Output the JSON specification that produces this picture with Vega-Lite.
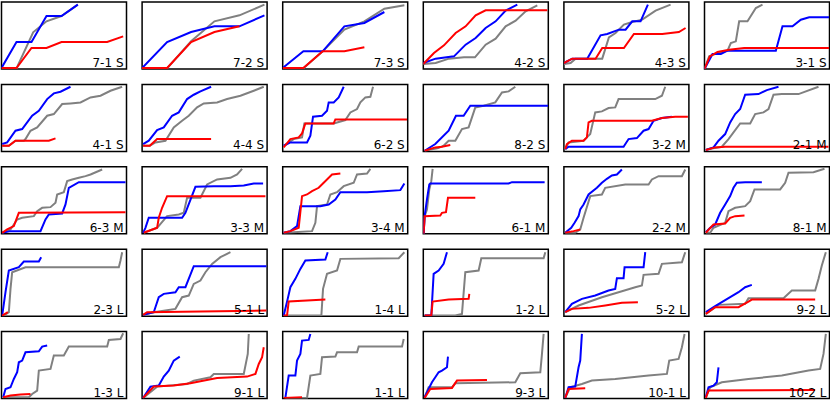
{
  "$schema": "https://vega.github.io/schema/vega-lite/v6.json",
  "padding": {"left": 0.5, "top": 1, "right": 0, "bottom": 0},
  "autosize": {"type": "pad"},
  "bounds": "flush",
  "background": "white",
  "data": {"values": [
    {"p":"7-1 S","s":"g","x":0,"y":2},{"p":"7-1 S","s":"g","x":45,"y":2},{"p":"7-1 S","s":"g","x":95,"y":110},{"p":"7-1 S","s":"g","x":135,"y":143},{"p":"7-1 S","s":"g","x":180,"y":159},{"p":"7-1 S","s":"g","x":229,"y":193},
    {"p":"7-1 S","s":"b","x":0,"y":3},{"p":"7-1 S","s":"b","x":45,"y":81},{"p":"7-1 S","s":"b","x":90,"y":81},{"p":"7-1 S","s":"b","x":135,"y":159},{"p":"7-1 S","s":"b","x":180,"y":159},{"p":"7-1 S","s":"b","x":229,"y":193},
    {"p":"7-1 S","s":"r","x":0,"y":3},{"p":"7-1 S","s":"r","x":45,"y":3},{"p":"7-1 S","s":"r","x":90,"y":63},{"p":"7-1 S","s":"r","x":135,"y":63},{"p":"7-1 S","s":"r","x":180,"y":81},{"p":"7-1 S","s":"r","x":317,"y":81},{"p":"7-1 S","s":"r","x":365,"y":98},

    {"p":"7-2 S","s":"g","x":0,"y":2},{"p":"7-2 S","s":"g","x":75,"y":2},{"p":"7-2 S","s":"g","x":147,"y":83},{"p":"7-2 S","s":"g","x":217,"y":143},{"p":"7-2 S","s":"g","x":292,"y":161},{"p":"7-2 S","s":"g","x":367,"y":193},
    {"p":"7-2 S","s":"b","x":0,"y":3},{"p":"7-2 S","s":"b","x":75,"y":81},{"p":"7-2 S","s":"b","x":147,"y":111},{"p":"7-2 S","s":"b","x":217,"y":128},{"p":"7-2 S","s":"b","x":292,"y":128},{"p":"7-2 S","s":"b","x":367,"y":161},
    {"p":"7-2 S","s":"r","x":0,"y":3},{"p":"7-2 S","s":"r","x":75,"y":3},{"p":"7-2 S","s":"r","x":147,"y":81},{"p":"7-2 S","s":"r","x":217,"y":111},{"p":"7-2 S","s":"r","x":292,"y":128},

    {"p":"7-3 S","s":"g","x":0,"y":2},{"p":"7-3 S","s":"g","x":62,"y":2},{"p":"7-3 S","s":"g","x":120,"y":53},{"p":"7-3 S","s":"g","x":185,"y":118},{"p":"7-3 S","s":"g","x":245,"y":143},{"p":"7-3 S","s":"g","x":305,"y":181},{"p":"7-3 S","s":"g","x":365,"y":191},
    {"p":"7-3 S","s":"b","x":0,"y":3},{"p":"7-3 S","s":"b","x":62,"y":53},{"p":"7-3 S","s":"b","x":120,"y":53},{"p":"7-3 S","s":"b","x":185,"y":128},{"p":"7-3 S","s":"b","x":245,"y":138},{"p":"7-3 S","s":"b","x":305,"y":171},
    {"p":"7-3 S","s":"r","x":0,"y":3},{"p":"7-3 S","s":"r","x":62,"y":3},{"p":"7-3 S","s":"r","x":120,"y":53},{"p":"7-3 S","s":"r","x":185,"y":53},{"p":"7-3 S","s":"r","x":245,"y":65},

    {"p":"4-2 S","s":"g","x":0,"y":15},{"p":"4-2 S","s":"g","x":37,"y":18},{"p":"4-2 S","s":"g","x":77,"y":31},{"p":"4-2 S","s":"g","x":122,"y":35},{"p":"4-2 S","s":"g","x":155,"y":35},{"p":"4-2 S","s":"g","x":187,"y":73},{"p":"4-2 S","s":"g","x":217,"y":91},{"p":"4-2 S","s":"g","x":247,"y":128},{"p":"4-2 S","s":"g","x":277,"y":145},{"p":"4-2 S","s":"g","x":307,"y":173},{"p":"4-2 S","s":"g","x":342,"y":191},
    {"p":"4-2 S","s":"b","x":0,"y":18},{"p":"4-2 S","s":"b","x":37,"y":31},{"p":"4-2 S","s":"b","x":92,"y":38},{"p":"4-2 S","s":"b","x":127,"y":73},{"p":"4-2 S","s":"b","x":157,"y":93},{"p":"4-2 S","s":"b","x":187,"y":123},{"p":"4-2 S","s":"b","x":217,"y":143},{"p":"4-2 S","s":"b","x":247,"y":175},{"p":"4-2 S","s":"b","x":282,"y":193},
    {"p":"4-2 S","s":"r","x":0,"y":15},{"p":"4-2 S","s":"r","x":32,"y":48},{"p":"4-2 S","s":"r","x":62,"y":71},{"p":"4-2 S","s":"r","x":97,"y":108},{"p":"4-2 S","s":"r","x":127,"y":128},{"p":"4-2 S","s":"r","x":157,"y":161},{"p":"4-2 S","s":"r","x":187,"y":176},{"p":"4-2 S","s":"r","x":372,"y":176},

    {"p":"4-3 S","s":"g","x":0,"y":15},{"p":"4-3 S","s":"g","x":20,"y":18},{"p":"4-3 S","s":"g","x":35,"y":31},{"p":"4-3 S","s":"g","x":115,"y":31},{"p":"4-3 S","s":"g","x":135,"y":95},{"p":"4-3 S","s":"g","x":155,"y":108},{"p":"4-3 S","s":"g","x":180,"y":133},{"p":"4-3 S","s":"g","x":205,"y":141},{"p":"4-3 S","s":"g","x":235,"y":148},{"p":"4-3 S","s":"g","x":275,"y":175},{"p":"4-3 S","s":"g","x":320,"y":193},
    {"p":"4-3 S","s":"b","x":0,"y":18},{"p":"4-3 S","s":"b","x":25,"y":31},{"p":"4-3 S","s":"b","x":70,"y":31},{"p":"4-3 S","s":"b","x":110,"y":101},{"p":"4-3 S","s":"b","x":130,"y":105},{"p":"4-3 S","s":"b","x":165,"y":118},{"p":"4-3 S","s":"b","x":185,"y":118},{"p":"4-3 S","s":"b","x":205,"y":143},{"p":"4-3 S","s":"b","x":230,"y":143},{"p":"4-3 S","s":"b","x":252,"y":193},
    {"p":"4-3 S","s":"r","x":0,"y":18},{"p":"4-3 S","s":"r","x":25,"y":31},{"p":"4-3 S","s":"r","x":95,"y":31},{"p":"4-3 S","s":"r","x":115,"y":63},{"p":"4-3 S","s":"r","x":180,"y":63},{"p":"4-3 S","s":"r","x":210,"y":105},{"p":"4-3 S","s":"r","x":295,"y":105},{"p":"4-3 S","s":"r","x":345,"y":111},{"p":"4-3 S","s":"r","x":365,"y":123},

    {"p":"3-1 S","s":"g","x":0,"y":0},{"p":"3-1 S","s":"g","x":14,"y":38},{"p":"3-1 S","s":"g","x":39,"y":48},{"p":"3-1 S","s":"g","x":69,"y":55},{"p":"3-1 S","s":"g","x":79,"y":78},{"p":"3-1 S","s":"g","x":94,"y":83},{"p":"3-1 S","s":"g","x":104,"y":143},{"p":"3-1 S","s":"g","x":129,"y":143},{"p":"3-1 S","s":"g","x":154,"y":183},{"p":"3-1 S","s":"g","x":174,"y":193},
    {"p":"3-1 S","s":"b","x":0,"y":0},{"p":"3-1 S","s":"b","x":24,"y":45},{"p":"3-1 S","s":"b","x":49,"y":45},{"p":"3-1 S","s":"b","x":69,"y":55},{"p":"3-1 S","s":"b","x":214,"y":55},{"p":"3-1 S","s":"b","x":234,"y":128},{"p":"3-1 S","s":"b","x":264,"y":128},{"p":"3-1 S","s":"b","x":289,"y":148},{"p":"3-1 S","s":"b","x":314,"y":155},{"p":"3-1 S","s":"b","x":374,"y":155},
    {"p":"3-1 S","s":"r","x":0,"y":0},{"p":"3-1 S","s":"r","x":16,"y":38},{"p":"3-1 S","s":"r","x":39,"y":51},{"p":"3-1 S","s":"r","x":74,"y":58},{"p":"3-1 S","s":"r","x":119,"y":63},{"p":"3-1 S","s":"r","x":374,"y":63},

    {"p":"4-1 S","s":"g","x":2,"y":17},{"p":"4-1 S","s":"g","x":22,"y":17},{"p":"4-1 S","s":"g","x":42,"y":32},{"p":"4-1 S","s":"g","x":67,"y":32},{"p":"4-1 S","s":"g","x":72,"y":37},{"p":"4-1 S","s":"g","x":87,"y":62},{"p":"4-1 S","s":"g","x":107,"y":72},{"p":"4-1 S","s":"g","x":137,"y":107},{"p":"4-1 S","s":"g","x":157,"y":112},{"p":"4-1 S","s":"g","x":182,"y":142},{"p":"4-1 S","s":"g","x":207,"y":144},{"p":"4-1 S","s":"g","x":237,"y":147},{"p":"4-1 S","s":"g","x":267,"y":162},{"p":"4-1 S","s":"g","x":297,"y":167},{"p":"4-1 S","s":"g","x":327,"y":182},{"p":"4-1 S","s":"g","x":362,"y":194},
    {"p":"4-1 S","s":"b","x":2,"y":22},{"p":"4-1 S","s":"b","x":17,"y":27},{"p":"4-1 S","s":"b","x":42,"y":62},{"p":"4-1 S","s":"b","x":62,"y":67},{"p":"4-1 S","s":"b","x":92,"y":107},{"p":"4-1 S","s":"b","x":112,"y":122},{"p":"4-1 S","s":"b","x":137,"y":157},{"p":"4-1 S","s":"b","x":157,"y":174},{"p":"4-1 S","s":"b","x":177,"y":179},{"p":"4-1 S","s":"b","x":207,"y":194},
    {"p":"4-1 S","s":"r","x":2,"y":17},{"p":"4-1 S","s":"r","x":22,"y":17},{"p":"4-1 S","s":"r","x":42,"y":32},{"p":"4-1 S","s":"r","x":142,"y":32},{"p":"4-1 S","s":"r","x":162,"y":39},

    {"p":"4-4 S","s":"g","x":3,"y":17},{"p":"4-4 S","s":"g","x":23,"y":17},{"p":"4-4 S","s":"g","x":40,"y":27},{"p":"4-4 S","s":"g","x":70,"y":32},{"p":"4-4 S","s":"g","x":95,"y":72},{"p":"4-4 S","s":"g","x":120,"y":92},{"p":"4-4 S","s":"g","x":140,"y":107},{"p":"4-4 S","s":"g","x":165,"y":132},{"p":"4-4 S","s":"g","x":185,"y":144},{"p":"4-4 S","s":"g","x":225,"y":147},{"p":"4-4 S","s":"g","x":255,"y":157},{"p":"4-4 S","s":"g","x":295,"y":167},{"p":"4-4 S","s":"g","x":335,"y":182},{"p":"4-4 S","s":"g","x":365,"y":194},
    {"p":"4-4 S","s":"b","x":3,"y":22},{"p":"4-4 S","s":"b","x":20,"y":32},{"p":"4-4 S","s":"b","x":45,"y":64},{"p":"4-4 S","s":"b","x":65,"y":72},{"p":"4-4 S","s":"b","x":90,"y":107},{"p":"4-4 S","s":"b","x":110,"y":117},{"p":"4-4 S","s":"b","x":135,"y":157},{"p":"4-4 S","s":"b","x":155,"y":170},{"p":"4-4 S","s":"b","x":175,"y":180},{"p":"4-4 S","s":"b","x":207,"y":194},
    {"p":"4-4 S","s":"r","x":3,"y":17},{"p":"4-4 S","s":"r","x":23,"y":17},{"p":"4-4 S","s":"r","x":45,"y":37},{"p":"4-4 S","s":"r","x":207,"y":37},

    {"p":"6-2 S","s":"g","x":3,"y":17},{"p":"6-2 S","s":"g","x":33,"y":37},{"p":"6-2 S","s":"g","x":58,"y":42},{"p":"6-2 S","s":"g","x":65,"y":84},{"p":"6-2 S","s":"g","x":153,"y":84},{"p":"6-2 S","s":"g","x":188,"y":94},{"p":"6-2 S","s":"g","x":203,"y":117},{"p":"6-2 S","s":"g","x":223,"y":127},{"p":"6-2 S","s":"g","x":233,"y":147},{"p":"6-2 S","s":"g","x":248,"y":162},{"p":"6-2 S","s":"g","x":263,"y":164},{"p":"6-2 S","s":"g","x":271,"y":194},
    {"p":"6-2 S","s":"b","x":3,"y":17},{"p":"6-2 S","s":"b","x":23,"y":27},{"p":"6-2 S","s":"b","x":73,"y":27},{"p":"6-2 S","s":"b","x":83,"y":47},{"p":"6-2 S","s":"b","x":91,"y":104},{"p":"6-2 S","s":"b","x":118,"y":107},{"p":"6-2 S","s":"b","x":133,"y":122},{"p":"6-2 S","s":"b","x":138,"y":147},{"p":"6-2 S","s":"b","x":153,"y":147},{"p":"6-2 S","s":"b","x":168,"y":162},{"p":"6-2 S","s":"b","x":183,"y":194},
    {"p":"6-2 S","s":"r","x":3,"y":12},{"p":"6-2 S","s":"r","x":23,"y":37},{"p":"6-2 S","s":"r","x":48,"y":42},{"p":"6-2 S","s":"r","x":58,"y":54},{"p":"6-2 S","s":"r","x":68,"y":84},{"p":"6-2 S","s":"r","x":153,"y":84},{"p":"6-2 S","s":"r","x":158,"y":96},{"p":"6-2 S","s":"r","x":373,"y":96},

    {"p":"8-2 S","s":"g","x":4,"y":2},{"p":"8-2 S","s":"g","x":45,"y":10},{"p":"8-2 S","s":"g","x":61,"y":17},{"p":"8-2 S","s":"g","x":76,"y":32},{"p":"8-2 S","s":"g","x":96,"y":32},{"p":"8-2 S","s":"g","x":116,"y":67},{"p":"8-2 S","s":"g","x":136,"y":72},{"p":"8-2 S","s":"g","x":156,"y":132},{"p":"8-2 S","s":"g","x":181,"y":137},{"p":"8-2 S","s":"g","x":216,"y":147},{"p":"8-2 S","s":"g","x":236,"y":177},{"p":"8-2 S","s":"g","x":256,"y":180},{"p":"8-2 S","s":"g","x":276,"y":194},
    {"p":"8-2 S","s":"b","x":4,"y":2},{"p":"8-2 S","s":"b","x":36,"y":22},{"p":"8-2 S","s":"b","x":76,"y":62},{"p":"8-2 S","s":"b","x":98,"y":107},{"p":"8-2 S","s":"b","x":121,"y":107},{"p":"8-2 S","s":"b","x":141,"y":137},{"p":"8-2 S","s":"b","x":374,"y":137},
    {"p":"8-2 S","s":"r","x":4,"y":2},{"p":"8-2 S","s":"r","x":36,"y":12},{"p":"8-2 S","s":"r","x":56,"y":14},{"p":"8-2 S","s":"r","x":81,"y":19},

    {"p":"3-2 M","s":"g","x":4,"y":7},{"p":"3-2 M","s":"g","x":14,"y":27},{"p":"3-2 M","s":"g","x":59,"y":32},{"p":"3-2 M","s":"g","x":69,"y":42},{"p":"3-2 M","s":"g","x":79,"y":52},{"p":"3-2 M","s":"g","x":94,"y":117},{"p":"3-2 M","s":"g","x":114,"y":120},{"p":"3-2 M","s":"g","x":134,"y":130},{"p":"3-2 M","s":"g","x":154,"y":132},{"p":"3-2 M","s":"g","x":164,"y":157},{"p":"3-2 M","s":"g","x":274,"y":157},{"p":"3-2 M","s":"g","x":294,"y":167},{"p":"3-2 M","s":"g","x":304,"y":194},
    {"p":"3-2 M","s":"b","x":4,"y":7},{"p":"3-2 M","s":"b","x":14,"y":14},{"p":"3-2 M","s":"b","x":179,"y":14},{"p":"3-2 M","s":"b","x":194,"y":37},{"p":"3-2 M","s":"b","x":219,"y":40},{"p":"3-2 M","s":"b","x":239,"y":62},{"p":"3-2 M","s":"b","x":254,"y":67},{"p":"3-2 M","s":"b","x":269,"y":92},{"p":"3-2 M","s":"b","x":294,"y":100},{"p":"3-2 M","s":"b","x":324,"y":104},
    {"p":"3-2 M","s":"r","x":4,"y":7},{"p":"3-2 M","s":"r","x":9,"y":22},{"p":"3-2 M","s":"r","x":24,"y":32},{"p":"3-2 M","s":"r","x":59,"y":32},{"p":"3-2 M","s":"r","x":69,"y":42},{"p":"3-2 M","s":"r","x":74,"y":87},{"p":"3-2 M","s":"r","x":84,"y":92},{"p":"3-2 M","s":"r","x":264,"y":92},{"p":"3-2 M","s":"r","x":294,"y":100},{"p":"3-2 M","s":"r","x":334,"y":104},{"p":"3-2 M","s":"r","x":372,"y":104},

    {"p":"2-1 M","s":"g","x":4,"y":4},{"p":"2-1 M","s":"g","x":12,"y":7},{"p":"2-1 M","s":"g","x":52,"y":14},{"p":"2-1 M","s":"g","x":72,"y":37},{"p":"2-1 M","s":"g","x":107,"y":84},{"p":"2-1 M","s":"g","x":137,"y":84},{"p":"2-1 M","s":"g","x":152,"y":112},{"p":"2-1 M","s":"g","x":177,"y":117},{"p":"2-1 M","s":"g","x":192,"y":127},{"p":"2-1 M","s":"g","x":207,"y":170},{"p":"2-1 M","s":"g","x":232,"y":172},{"p":"2-1 M","s":"g","x":282,"y":172},{"p":"2-1 M","s":"g","x":342,"y":194},
    {"p":"2-1 M","s":"b","x":4,"y":4},{"p":"2-1 M","s":"b","x":27,"y":12},{"p":"2-1 M","s":"b","x":42,"y":32},{"p":"2-1 M","s":"b","x":62,"y":52},{"p":"2-1 M","s":"b","x":77,"y":87},{"p":"2-1 M","s":"b","x":92,"y":112},{"p":"2-1 M","s":"b","x":107,"y":127},{"p":"2-1 M","s":"b","x":122,"y":170},{"p":"2-1 M","s":"b","x":162,"y":172},{"p":"2-1 M","s":"b","x":187,"y":184},{"p":"2-1 M","s":"b","x":222,"y":194},
    {"p":"2-1 M","s":"r","x":4,"y":4},{"p":"2-1 M","s":"r","x":32,"y":12},{"p":"2-1 M","s":"r","x":62,"y":14},{"p":"2-1 M","s":"r","x":372,"y":14},

    {"p":"6-3 M","s":"g","x":2,"y":3},{"p":"6-3 M","s":"g","x":27,"y":13},{"p":"6-3 M","s":"g","x":47,"y":43},{"p":"6-3 M","s":"g","x":62,"y":48},{"p":"6-3 M","s":"g","x":97,"y":53},{"p":"6-3 M","s":"g","x":107,"y":68},{"p":"6-3 M","s":"g","x":122,"y":78},{"p":"6-3 M","s":"g","x":147,"y":80},{"p":"6-3 M","s":"g","x":162,"y":93},{"p":"6-3 M","s":"g","x":167,"y":118},{"p":"6-3 M","s":"g","x":187,"y":125},{"p":"6-3 M","s":"g","x":197,"y":158},{"p":"6-3 M","s":"g","x":212,"y":163},{"p":"6-3 M","s":"g","x":232,"y":168},{"p":"6-3 M","s":"g","x":252,"y":173},{"p":"6-3 M","s":"g","x":267,"y":178},{"p":"6-3 M","s":"g","x":302,"y":193},
    {"p":"6-3 M","s":"b","x":2,"y":3},{"p":"6-3 M","s":"b","x":27,"y":8},{"p":"6-3 M","s":"b","x":117,"y":8},{"p":"6-3 M","s":"b","x":132,"y":43},{"p":"6-3 M","s":"b","x":142,"y":58},{"p":"6-3 M","s":"b","x":182,"y":61},{"p":"6-3 M","s":"b","x":192,"y":88},{"p":"6-3 M","s":"b","x":202,"y":138},{"p":"6-3 M","s":"b","x":232,"y":155},{"p":"6-3 M","s":"b","x":372,"y":155},
    {"p":"6-3 M","s":"r","x":2,"y":3},{"p":"6-3 M","s":"r","x":17,"y":13},{"p":"6-3 M","s":"r","x":37,"y":23},{"p":"6-3 M","s":"r","x":52,"y":63},{"p":"6-3 M","s":"r","x":372,"y":65},

    {"p":"3-3 M","s":"g","x":5,"y":3},{"p":"3-3 M","s":"g","x":45,"y":18},{"p":"3-3 M","s":"g","x":75,"y":53},{"p":"3-3 M","s":"g","x":110,"y":58},{"p":"3-3 M","s":"g","x":125,"y":63},{"p":"3-3 M","s":"g","x":135,"y":108},{"p":"3-3 M","s":"g","x":175,"y":108},{"p":"3-3 M","s":"g","x":195,"y":148},{"p":"3-3 M","s":"g","x":225,"y":163},{"p":"3-3 M","s":"g","x":265,"y":168},{"p":"3-3 M","s":"g","x":285,"y":178},{"p":"3-3 M","s":"g","x":300,"y":195},
    {"p":"3-3 M","s":"b","x":3,"y":3},{"p":"3-3 M","s":"b","x":10,"y":18},{"p":"3-3 M","s":"b","x":20,"y":48},{"p":"3-3 M","s":"b","x":120,"y":48},{"p":"3-3 M","s":"b","x":130,"y":63},{"p":"3-3 M","s":"b","x":160,"y":141},{"p":"3-3 M","s":"b","x":215,"y":143},{"p":"3-3 M","s":"b","x":265,"y":143},{"p":"3-3 M","s":"b","x":305,"y":145},{"p":"3-3 M","s":"b","x":335,"y":151},{"p":"3-3 M","s":"b","x":363,"y":151},
    {"p":"3-3 M","s":"r","x":5,"y":3},{"p":"3-3 M","s":"r","x":45,"y":18},{"p":"3-3 M","s":"r","x":50,"y":48},{"p":"3-3 M","s":"r","x":60,"y":78},{"p":"3-3 M","s":"r","x":75,"y":113},{"p":"3-3 M","s":"r","x":370,"y":113},

    {"p":"3-4 M","s":"g","x":3,"y":3},{"p":"3-4 M","s":"g","x":33,"y":5},{"p":"3-4 M","s":"g","x":88,"y":8},{"p":"3-4 M","s":"g","x":98,"y":33},{"p":"3-4 M","s":"g","x":103,"y":83},{"p":"3-4 M","s":"g","x":133,"y":88},{"p":"3-4 M","s":"g","x":143,"y":118},{"p":"3-4 M","s":"g","x":163,"y":125},{"p":"3-4 M","s":"g","x":183,"y":143},{"p":"3-4 M","s":"g","x":213,"y":153},{"p":"3-4 M","s":"g","x":223,"y":178},{"p":"3-4 M","s":"g","x":253,"y":181},{"p":"3-4 M","s":"g","x":263,"y":195},
    {"p":"3-4 M","s":"b","x":3,"y":3},{"p":"3-4 M","s":"b","x":23,"y":8},{"p":"3-4 M","s":"b","x":43,"y":23},{"p":"3-4 M","s":"b","x":53,"y":83},{"p":"3-4 M","s":"b","x":113,"y":83},{"p":"3-4 M","s":"b","x":138,"y":88},{"p":"3-4 M","s":"b","x":158,"y":103},{"p":"3-4 M","s":"b","x":173,"y":125},{"p":"3-4 M","s":"b","x":253,"y":125},{"p":"3-4 M","s":"b","x":303,"y":128},{"p":"3-4 M","s":"b","x":353,"y":131},{"p":"3-4 M","s":"b","x":365,"y":151},
    {"p":"3-4 M","s":"r","x":3,"y":3},{"p":"3-4 M","s":"r","x":23,"y":8},{"p":"3-4 M","s":"r","x":48,"y":18},{"p":"3-4 M","s":"r","x":58,"y":113},{"p":"3-4 M","s":"r","x":73,"y":118},{"p":"3-4 M","s":"r","x":88,"y":128},{"p":"3-4 M","s":"r","x":108,"y":138},{"p":"3-4 M","s":"r","x":123,"y":153},{"p":"3-4 M","s":"r","x":148,"y":178},{"p":"3-4 M","s":"r","x":173,"y":181},

    {"p":"6-1 M","s":"g","x":1,"y":0},{"p":"6-1 M","s":"g","x":4,"y":53},{"p":"6-1 M","s":"g","x":11,"y":73},{"p":"6-1 M","s":"g","x":18,"y":133},{"p":"6-1 M","s":"g","x":24,"y":158},{"p":"6-1 M","s":"g","x":28,"y":195},
    {"p":"6-1 M","s":"b","x":1,"y":0},{"p":"6-1 M","s":"b","x":4,"y":53},{"p":"6-1 M","s":"b","x":11,"y":103},{"p":"6-1 M","s":"b","x":18,"y":148},{"p":"6-1 M","s":"b","x":21,"y":151},{"p":"6-1 M","s":"b","x":256,"y":151},{"p":"6-1 M","s":"b","x":266,"y":155},{"p":"6-1 M","s":"b","x":364,"y":155},
    {"p":"6-1 M","s":"r","x":1,"y":0},{"p":"6-1 M","s":"r","x":4,"y":53},{"p":"6-1 M","s":"r","x":51,"y":55},{"p":"6-1 M","s":"r","x":56,"y":63},{"p":"6-1 M","s":"r","x":68,"y":65},{"p":"6-1 M","s":"r","x":74,"y":108},{"p":"6-1 M","s":"r","x":156,"y":108},

    {"p":"2-2 M","s":"g","x":4,"y":3},{"p":"2-2 M","s":"g","x":34,"y":3},{"p":"2-2 M","s":"g","x":49,"y":13},{"p":"2-2 M","s":"g","x":59,"y":48},{"p":"2-2 M","s":"g","x":79,"y":113},{"p":"2-2 M","s":"g","x":114,"y":118},{"p":"2-2 M","s":"g","x":124,"y":138},{"p":"2-2 M","s":"g","x":184,"y":148},{"p":"2-2 M","s":"g","x":254,"y":148},{"p":"2-2 M","s":"g","x":264,"y":163},{"p":"2-2 M","s":"g","x":284,"y":173},{"p":"2-2 M","s":"g","x":354,"y":173},{"p":"2-2 M","s":"g","x":364,"y":193},
    {"p":"2-2 M","s":"b","x":4,"y":3},{"p":"2-2 M","s":"b","x":22,"y":18},{"p":"2-2 M","s":"b","x":32,"y":33},{"p":"2-2 M","s":"b","x":44,"y":53},{"p":"2-2 M","s":"b","x":49,"y":73},{"p":"2-2 M","s":"b","x":59,"y":88},{"p":"2-2 M","s":"b","x":74,"y":118},{"p":"2-2 M","s":"b","x":99,"y":138},{"p":"2-2 M","s":"b","x":114,"y":153},{"p":"2-2 M","s":"b","x":129,"y":165},{"p":"2-2 M","s":"b","x":144,"y":175},{"p":"2-2 M","s":"b","x":159,"y":178},{"p":"2-2 M","s":"b","x":174,"y":193},
    {"p":"2-2 M","s":"r","x":4,"y":3},{"p":"2-2 M","s":"r","x":29,"y":8},{"p":"2-2 M","s":"r","x":49,"y":13},

    {"p":"8-1 M","s":"g","x":4,"y":3},{"p":"8-1 M","s":"g","x":17,"y":3},{"p":"8-1 M","s":"g","x":27,"y":18},{"p":"8-1 M","s":"g","x":62,"y":33},{"p":"8-1 M","s":"g","x":72,"y":68},{"p":"8-1 M","s":"g","x":92,"y":78},{"p":"8-1 M","s":"g","x":122,"y":83},{"p":"8-1 M","s":"g","x":137,"y":98},{"p":"8-1 M","s":"g","x":150,"y":133},{"p":"8-1 M","s":"g","x":227,"y":133},{"p":"8-1 M","s":"g","x":242,"y":153},{"p":"8-1 M","s":"g","x":252,"y":183},{"p":"8-1 M","s":"g","x":327,"y":185},{"p":"8-1 M","s":"g","x":360,"y":195},
    {"p":"8-1 M","s":"b","x":4,"y":5},{"p":"8-1 M","s":"b","x":17,"y":18},{"p":"8-1 M","s":"b","x":32,"y":28},{"p":"8-1 M","s":"b","x":47,"y":63},{"p":"8-1 M","s":"b","x":62,"y":88},{"p":"8-1 M","s":"b","x":77,"y":113},{"p":"8-1 M","s":"b","x":87,"y":138},{"p":"8-1 M","s":"b","x":97,"y":153},{"p":"8-1 M","s":"b","x":122,"y":155},{"p":"8-1 M","s":"b","x":172,"y":155},
    {"p":"8-1 M","s":"r","x":4,"y":3},{"p":"8-1 M","s":"r","x":27,"y":28},{"p":"8-1 M","s":"r","x":62,"y":31},{"p":"8-1 M","s":"r","x":77,"y":48},{"p":"8-1 M","s":"r","x":92,"y":53},{"p":"8-1 M","s":"r","x":120,"y":55},

    {"p":"2-3 L","s":"g","x":2,"y":2},{"p":"2-3 L","s":"g","x":7,"y":2},{"p":"2-3 L","s":"g","x":22,"y":12},{"p":"2-3 L","s":"g","x":27,"y":82},{"p":"2-3 L","s":"g","x":32,"y":132},{"p":"2-3 L","s":"g","x":72,"y":147},{"p":"2-3 L","s":"g","x":352,"y":147},{"p":"2-3 L","s":"g","x":357,"y":167},{"p":"2-3 L","s":"g","x":362,"y":192},
    {"p":"2-3 L","s":"b","x":2,"y":2},{"p":"2-3 L","s":"b","x":12,"y":72},{"p":"2-3 L","s":"b","x":22,"y":137},{"p":"2-3 L","s":"b","x":52,"y":147},{"p":"2-3 L","s":"b","x":67,"y":164},{"p":"2-3 L","s":"b","x":112,"y":164},{"p":"2-3 L","s":"b","x":119,"y":177},
    {"p":"2-3 L","s":"r","x":2,"y":2},{"p":"2-3 L","s":"r","x":19,"y":12},

    {"p":"5-1 L","s":"g","x":3,"y":4},{"p":"5-1 L","s":"g","x":35,"y":12},{"p":"5-1 L","s":"g","x":100,"y":22},{"p":"5-1 L","s":"g","x":120,"y":57},{"p":"5-1 L","s":"g","x":140,"y":62},{"p":"5-1 L","s":"g","x":155,"y":97},{"p":"5-1 L","s":"g","x":175,"y":107},{"p":"5-1 L","s":"g","x":190,"y":132},{"p":"5-1 L","s":"g","x":210,"y":157},{"p":"5-1 L","s":"g","x":235,"y":177},{"p":"5-1 L","s":"g","x":265,"y":192},
    {"p":"5-1 L","s":"b","x":3,"y":4},{"p":"5-1 L","s":"b","x":35,"y":12},{"p":"5-1 L","s":"b","x":50,"y":57},{"p":"5-1 L","s":"b","x":65,"y":67},{"p":"5-1 L","s":"b","x":100,"y":72},{"p":"5-1 L","s":"b","x":110,"y":87},{"p":"5-1 L","s":"b","x":130,"y":87},{"p":"5-1 L","s":"b","x":155,"y":150},{"p":"5-1 L","s":"b","x":373,"y":150},
    {"p":"5-1 L","s":"r","x":3,"y":4},{"p":"5-1 L","s":"r","x":15,"y":12},{"p":"5-1 L","s":"r","x":175,"y":14},{"p":"5-1 L","s":"r","x":373,"y":17},

    {"p":"1-4 L","s":"g","x":3,"y":2},{"p":"1-4 L","s":"g","x":116,"y":2},{"p":"1-4 L","s":"g","x":121,"y":82},{"p":"1-4 L","s":"g","x":133,"y":127},{"p":"1-4 L","s":"g","x":163,"y":137},{"p":"1-4 L","s":"g","x":173,"y":172},{"p":"1-4 L","s":"g","x":348,"y":174},{"p":"1-4 L","s":"g","x":365,"y":192},
    {"p":"1-4 L","s":"b","x":3,"y":2},{"p":"1-4 L","s":"b","x":15,"y":52},{"p":"1-4 L","s":"b","x":23,"y":87},{"p":"1-4 L","s":"b","x":38,"y":112},{"p":"1-4 L","s":"b","x":53,"y":142},{"p":"1-4 L","s":"b","x":68,"y":167},{"p":"1-4 L","s":"b","x":128,"y":170},{"p":"1-4 L","s":"b","x":135,"y":192},
    {"p":"1-4 L","s":"r","x":3,"y":2},{"p":"1-4 L","s":"r","x":13,"y":2},{"p":"1-4 L","s":"r","x":18,"y":44},{"p":"1-4 L","s":"r","x":128,"y":50},

    {"p":"1-2 L","s":"g","x":4,"y":2},{"p":"1-2 L","s":"g","x":96,"y":2},{"p":"1-2 L","s":"g","x":116,"y":7},{"p":"1-2 L","s":"g","x":126,"y":132},{"p":"1-2 L","s":"g","x":166,"y":137},{"p":"1-2 L","s":"g","x":174,"y":174},{"p":"1-2 L","s":"g","x":361,"y":174},{"p":"1-2 L","s":"g","x":366,"y":192},
    {"p":"1-2 L","s":"b","x":4,"y":2},{"p":"1-2 L","s":"b","x":24,"y":2},{"p":"1-2 L","s":"b","x":31,"y":127},{"p":"1-2 L","s":"b","x":46,"y":137},{"p":"1-2 L","s":"b","x":61,"y":157},{"p":"1-2 L","s":"b","x":71,"y":192},
    {"p":"1-2 L","s":"r","x":4,"y":2},{"p":"1-2 L","s":"r","x":24,"y":2},{"p":"1-2 L","s":"r","x":28,"y":44},{"p":"1-2 L","s":"r","x":76,"y":50},{"p":"1-2 L","s":"r","x":136,"y":52},{"p":"1-2 L","s":"r","x":138,"y":67},

    {"p":"5-2 L","s":"g","x":4,"y":12},{"p":"5-2 L","s":"g","x":44,"y":32},{"p":"5-2 L","s":"g","x":114,"y":57},{"p":"5-2 L","s":"g","x":214,"y":87},{"p":"5-2 L","s":"g","x":234,"y":92},{"p":"5-2 L","s":"g","x":239,"y":124},{"p":"5-2 L","s":"g","x":284,"y":127},{"p":"5-2 L","s":"g","x":294,"y":157},{"p":"5-2 L","s":"g","x":354,"y":162},{"p":"5-2 L","s":"g","x":364,"y":192},
    {"p":"5-2 L","s":"b","x":4,"y":12},{"p":"5-2 L","s":"b","x":24,"y":37},{"p":"5-2 L","s":"b","x":54,"y":52},{"p":"5-2 L","s":"b","x":94,"y":62},{"p":"5-2 L","s":"b","x":134,"y":77},{"p":"5-2 L","s":"b","x":154,"y":82},{"p":"5-2 L","s":"b","x":159,"y":114},{"p":"5-2 L","s":"b","x":179,"y":114},{"p":"5-2 L","s":"b","x":182,"y":147},{"p":"5-2 L","s":"b","x":239,"y":147},{"p":"5-2 L","s":"b","x":244,"y":192},
    {"p":"5-2 L","s":"r","x":4,"y":12},{"p":"5-2 L","s":"r","x":24,"y":22},{"p":"5-2 L","s":"r","x":74,"y":25},{"p":"5-2 L","s":"r","x":124,"y":32},{"p":"5-2 L","s":"r","x":174,"y":40},{"p":"5-2 L","s":"r","x":222,"y":42},

    {"p":"9-2 L","s":"g","x":4,"y":7},{"p":"9-2 L","s":"g","x":42,"y":34},{"p":"9-2 L","s":"g","x":122,"y":37},{"p":"9-2 L","s":"g","x":132,"y":54},{"p":"9-2 L","s":"g","x":237,"y":54},{"p":"9-2 L","s":"g","x":262,"y":77},{"p":"9-2 L","s":"g","x":332,"y":77},{"p":"9-2 L","s":"g","x":342,"y":112},{"p":"9-2 L","s":"g","x":352,"y":152},{"p":"9-2 L","s":"g","x":364,"y":192},
    {"p":"9-2 L","s":"b","x":4,"y":12},{"p":"9-2 L","s":"b","x":32,"y":30},{"p":"9-2 L","s":"b","x":72,"y":54},{"p":"9-2 L","s":"b","x":102,"y":72},{"p":"9-2 L","s":"b","x":122,"y":87},{"p":"9-2 L","s":"b","x":142,"y":94},
    {"p":"9-2 L","s":"r","x":4,"y":7},{"p":"9-2 L","s":"r","x":32,"y":27},{"p":"9-2 L","s":"r","x":102,"y":27},{"p":"9-2 L","s":"r","x":132,"y":44},{"p":"9-2 L","s":"r","x":142,"y":50},{"p":"9-2 L","s":"r","x":332,"y":50},

    {"p":"1-3 L","s":"g","x":5,"y":4},{"p":"1-3 L","s":"g","x":82,"y":4},{"p":"1-3 L","s":"g","x":92,"y":14},{"p":"1-3 L","s":"g","x":107,"y":24},{"p":"1-3 L","s":"g","x":112,"y":84},{"p":"1-3 L","s":"g","x":147,"y":89},{"p":"1-3 L","s":"g","x":157,"y":129},{"p":"1-3 L","s":"g","x":187,"y":129},{"p":"1-3 L","s":"g","x":202,"y":156},{"p":"1-3 L","s":"g","x":317,"y":156},{"p":"1-3 L","s":"g","x":322,"y":176},{"p":"1-3 L","s":"g","x":357,"y":179},{"p":"1-3 L","s":"g","x":365,"y":196},
    {"p":"1-3 L","s":"b","x":5,"y":4},{"p":"1-3 L","s":"b","x":12,"y":29},{"p":"1-3 L","s":"b","x":27,"y":34},{"p":"1-3 L","s":"b","x":37,"y":59},{"p":"1-3 L","s":"b","x":47,"y":79},{"p":"1-3 L","s":"b","x":52,"y":109},{"p":"1-3 L","s":"b","x":62,"y":114},{"p":"1-3 L","s":"b","x":72,"y":139},{"p":"1-3 L","s":"b","x":112,"y":142},{"p":"1-3 L","s":"b","x":122,"y":156},{"p":"1-3 L","s":"b","x":137,"y":159},
    {"p":"1-3 L","s":"r","x":5,"y":4},{"p":"1-3 L","s":"r","x":27,"y":9},{"p":"1-3 L","s":"r","x":57,"y":12},{"p":"1-3 L","s":"r","x":87,"y":14},

    {"p":"9-1 L","s":"g","x":3,"y":2},{"p":"9-1 L","s":"g","x":45,"y":36},{"p":"9-1 L","s":"g","x":135,"y":44},{"p":"9-1 L","s":"g","x":155,"y":54},{"p":"9-1 L","s":"g","x":205,"y":64},{"p":"9-1 L","s":"g","x":215,"y":74},{"p":"9-1 L","s":"g","x":305,"y":74},{"p":"9-1 L","s":"g","x":317,"y":134},{"p":"9-1 L","s":"g","x":320,"y":194},
    {"p":"9-1 L","s":"b","x":3,"y":2},{"p":"9-1 L","s":"b","x":25,"y":36},{"p":"9-1 L","s":"b","x":50,"y":39},{"p":"9-1 L","s":"b","x":65,"y":66},{"p":"9-1 L","s":"b","x":80,"y":84},{"p":"9-1 L","s":"b","x":95,"y":114},{"p":"9-1 L","s":"b","x":113,"y":126},
    {"p":"9-1 L","s":"r","x":3,"y":2},{"p":"9-1 L","s":"r","x":35,"y":36},{"p":"9-1 L","s":"r","x":95,"y":39},{"p":"9-1 L","s":"r","x":145,"y":46},{"p":"9-1 L","s":"r","x":175,"y":52},{"p":"9-1 L","s":"r","x":225,"y":62},{"p":"9-1 L","s":"r","x":315,"y":66},{"p":"9-1 L","s":"r","x":340,"y":74},{"p":"9-1 L","s":"r","x":350,"y":104},{"p":"9-1 L","s":"r","x":360,"y":124},{"p":"9-1 L","s":"r","x":365,"y":154},

    {"p":"1-1 L","s":"g","x":8,"y":2},{"p":"1-1 L","s":"g","x":73,"y":2},{"p":"1-1 L","s":"g","x":83,"y":69},{"p":"1-1 L","s":"g","x":113,"y":74},{"p":"1-1 L","s":"g","x":118,"y":124},{"p":"1-1 L","s":"g","x":158,"y":126},{"p":"1-1 L","s":"g","x":163,"y":139},{"p":"1-1 L","s":"g","x":223,"y":139},{"p":"1-1 L","s":"g","x":228,"y":156},{"p":"1-1 L","s":"g","x":358,"y":156},{"p":"1-1 L","s":"g","x":363,"y":179},
    {"p":"1-1 L","s":"b","x":8,"y":2},{"p":"1-1 L","s":"b","x":18,"y":69},{"p":"1-1 L","s":"b","x":38,"y":69},{"p":"1-1 L","s":"b","x":43,"y":114},{"p":"1-1 L","s":"b","x":53,"y":134},{"p":"1-1 L","s":"b","x":58,"y":174},{"p":"1-1 L","s":"b","x":78,"y":176},{"p":"1-1 L","s":"b","x":83,"y":194},
    {"p":"1-1 L","s":"r","x":3,"y":2},{"p":"1-1 L","s":"r","x":58,"y":4},

    {"p":"9-3 L","s":"g","x":4,"y":4},{"p":"9-3 L","s":"g","x":16,"y":34},{"p":"9-3 L","s":"g","x":86,"y":34},{"p":"9-3 L","s":"g","x":96,"y":46},{"p":"9-3 L","s":"g","x":276,"y":49},{"p":"9-3 L","s":"g","x":291,"y":76},{"p":"9-3 L","s":"g","x":351,"y":79},{"p":"9-3 L","s":"g","x":356,"y":134},{"p":"9-3 L","s":"g","x":361,"y":194},
    {"p":"9-3 L","s":"b","x":4,"y":4},{"p":"9-3 L","s":"b","x":16,"y":29},{"p":"9-3 L","s":"b","x":26,"y":49},{"p":"9-3 L","s":"b","x":36,"y":64},{"p":"9-3 L","s":"b","x":46,"y":79},{"p":"9-3 L","s":"b","x":56,"y":84},{"p":"9-3 L","s":"b","x":71,"y":94},{"p":"9-3 L","s":"b","x":74,"y":126},
    {"p":"9-3 L","s":"r","x":4,"y":2},{"p":"9-3 L","s":"r","x":21,"y":29},{"p":"9-3 L","s":"r","x":86,"y":32},{"p":"9-3 L","s":"r","x":101,"y":54},{"p":"9-3 L","s":"r","x":191,"y":56},

    {"p":"10-1 L","s":"g","x":4,"y":2},{"p":"10-1 L","s":"g","x":19,"y":34},{"p":"10-1 L","s":"g","x":54,"y":44},{"p":"10-1 L","s":"g","x":84,"y":54},{"p":"10-1 L","s":"g","x":154,"y":59},{"p":"10-1 L","s":"g","x":254,"y":69},{"p":"10-1 L","s":"g","x":309,"y":74},{"p":"10-1 L","s":"g","x":316,"y":114},{"p":"10-1 L","s":"g","x":344,"y":119},{"p":"10-1 L","s":"g","x":354,"y":154},{"p":"10-1 L","s":"g","x":362,"y":194},
    {"p":"10-1 L","s":"b","x":4,"y":2},{"p":"10-1 L","s":"b","x":14,"y":34},{"p":"10-1 L","s":"b","x":34,"y":36},{"p":"10-1 L","s":"b","x":44,"y":94},{"p":"10-1 L","s":"b","x":49,"y":114},{"p":"10-1 L","s":"b","x":54,"y":194},
    {"p":"10-1 L","s":"r","x":4,"y":2},{"p":"10-1 L","s":"r","x":14,"y":29},{"p":"10-1 L","s":"r","x":64,"y":31},

    {"p":"10-2 L","s":"g","x":4,"y":4},{"p":"10-2 L","s":"g","x":17,"y":34},{"p":"10-2 L","s":"g","x":52,"y":49},{"p":"10-2 L","s":"g","x":132,"y":59},{"p":"10-2 L","s":"g","x":232,"y":69},{"p":"10-2 L","s":"g","x":312,"y":84},{"p":"10-2 L","s":"g","x":347,"y":89},{"p":"10-2 L","s":"g","x":357,"y":134},{"p":"10-2 L","s":"g","x":364,"y":194},
    {"p":"10-2 L","s":"b","x":4,"y":4},{"p":"10-2 L","s":"b","x":12,"y":34},{"p":"10-2 L","s":"b","x":27,"y":39},{"p":"10-2 L","s":"b","x":37,"y":49},{"p":"10-2 L","s":"b","x":42,"y":94},
    {"p":"10-2 L","s":"r","x":4,"y":2},{"p":"10-2 L","s":"r","x":12,"y":24},{"p":"10-2 L","s":"r","x":332,"y":26}
  ]},
  "facet": {
    "field": "p",
    "type": "nominal",
    "title": null,
    "header": {"title": null, "labels": false, "labelExpr": "''", "labelPadding": 0, "titlePadding": 0},
    "sort": ["7-1 S","7-2 S","7-3 S","4-2 S","4-3 S","3-1 S","4-1 S","4-4 S","6-2 S","8-2 S","3-2 M","2-1 M","6-3 M","3-3 M","3-4 M","6-1 M","2-2 M","8-1 M","2-3 L","5-1 L","1-4 L","1-2 L","5-2 L","9-2 L","1-3 L","9-1 L","1-1 L","9-3 L","10-1 L","10-2 L"]
  },
  "columns": 6,
  "spacing": {"column": 15.6, "row": 15.4},
  "spec": {
    "width": 125,
    "height": 67,
    "layer": [
      {
        "mark": {"type": "line", "strokeWidth": 2, "clip": true},
        "encoding": {
          "x": {"field": "x", "type": "quantitative", "scale": {"domain": [0, 375], "nice": false, "zero": false}, "axis": null},
          "y": {"field": "y", "type": "quantitative", "scale": {"domain": [0, 201], "nice": false, "zero": false}, "axis": null},
          "color": {"field": "s", "type": "nominal", "scale": {"domain": ["g", "b", "r"], "range": ["#808080", "#0000ff", "#ff0000"]}, "legend": null},
          "order": {"value": null}
        }
      },
      {
        "transform": [{"aggregate": [{"op": "count", "as": "n"}], "groupby": ["p"]}],
        "mark": {"type": "text", "align": "right", "baseline": "alphabetic", "font": "DejaVu Sans", "fontSize": 12, "color": "black", "dx": -3, "dy": -2},
        "encoding": {
          "x": {"datum": 375},
          "y": {"datum": 0},
          "text": {"field": "p", "type": "nominal"}
        }
      }
    ]
  },
  "config": {
    "view": {"stroke": "black", "strokeWidth": 1.5},
    "header": {"labels": false, "title": null, "labelExpr": "''", "labelPadding": 0, "titlePadding": 0, "labelFontSize": 0}
  }
}
